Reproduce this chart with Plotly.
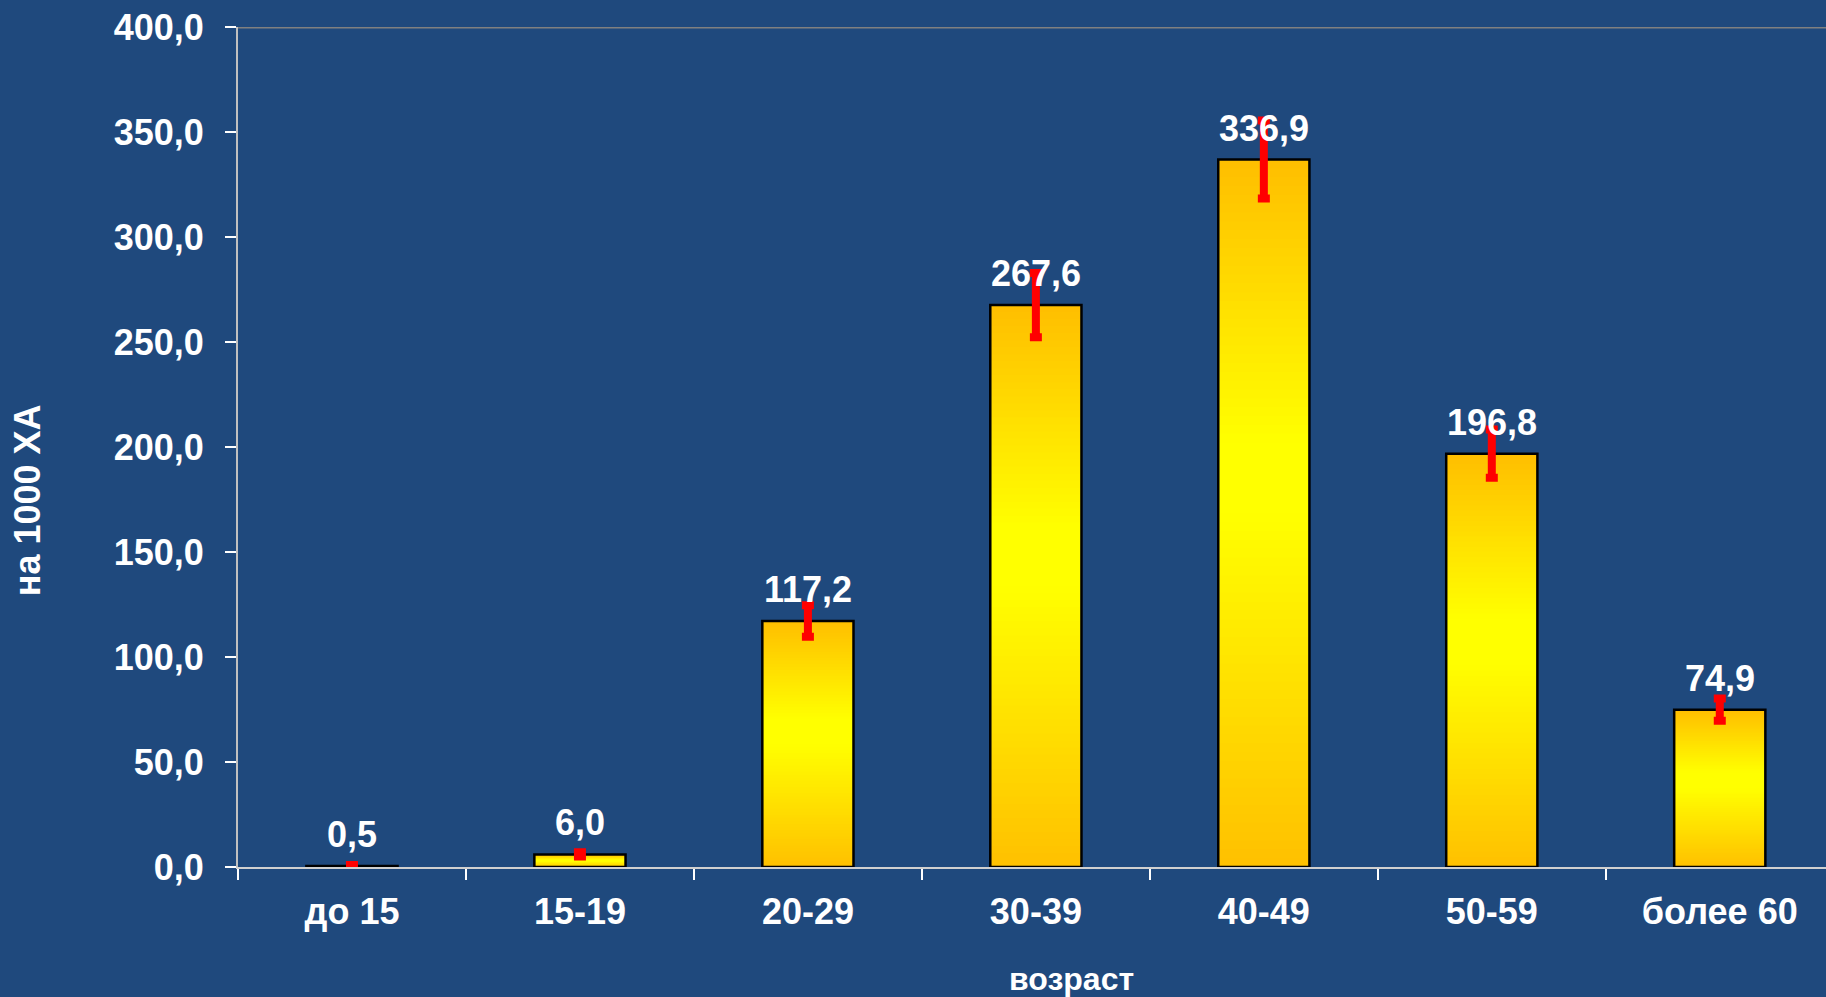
import plotly.graph_objects as go

# Age groups and rates per 1000
categories = ["до 15", "15-19", "20-29", "30-39", "40-49", "50-59", "более 60"]
values = [0.5, 6.0, 117.2, 267.6, 336.9, 196.8, 74.9]
errors = [0.5, 1.0, 7.5, 15.3, 18.6, 11.5, 5.3]

BG = "#1F497D"
FONT = "Liberation Sans, Arial, sans-serif"
N_STEPS = 80
BAR_W = 0.40

# vertical gradient stops (fraction from the bottom of each bar)
STOPS = [(0.0, (255, 192, 0)), (0.5, (255, 255, 0)), (0.6, (255, 255, 0)), (1.0, (255, 190, 0))]


def grad_color(t):
    for (t0, c0), (t1, c1) in zip(STOPS[:-1], STOPS[1:]):
        if t0 <= t <= t1:
            f = 0 if t1 == t0 else (t - t0) / (t1 - t0)
            r, g, b = (round(a + (b_ - a) * f) for a, b_ in zip(c0, c1))
            return f"rgb({r},{g},{b})"
    return "rgb(255,192,0)"


fig = go.Figure()

# gradient fill: each bar split into overlapping horizontal slices, drawn bottom-up
for j in range(N_STEPS):
    col = grad_color((j + 0.5) / N_STEPS)
    bases = [v * j / N_STEPS for v in values]
    tops = [min(v, v * (j + 2.5) / N_STEPS) for v in values]
    fig.add_trace(go.Bar(
        x=categories,
        y=[t - b for t, b in zip(tops, bases)],
        base=bases,
        width=BAR_W,
        marker=dict(color=col, line=dict(width=0)),
        showlegend=False,
        hoverinfo="skip",
    ))

# outline and error bars
fig.add_trace(go.Bar(
    x=categories,
    y=values,
    width=BAR_W,
    marker=dict(color="rgba(0,0,0,0)", line=dict(color="black", width=2.5)),
    error_y=dict(type="data", array=errors, visible=True, color="#FF0000", thickness=8, width=6),
    showlegend=False,
))

# value labels above the bars
for c, v in zip(categories, values):
    fig.add_annotation(
        x=c, y=v, xref="x", yref="y",
        text=f"{v:.1f}".replace(".", ","),
        showarrow=False, yanchor="bottom", yshift=9,
        font=dict(family=FONT, size=36, color="white", weight="bold"),
    )

fig.add_annotation(
    x=-0.1326, y=0.437, xref="paper", yref="paper",
    text="на 1000 ХА", textangle=-90, showarrow=False,
    xanchor="center", yanchor="middle",
    font=dict(family=FONT, size=36, color="white", weight="bold"),
)
fig.add_annotation(
    x=0.5246, y=-0.1329, xref="paper", yref="paper",
    text="возраст", showarrow=False,
    xanchor="center", yanchor="middle",
    font=dict(family=FONT, size=32, color="white", weight="bold"),
)

# top border of the plot area
fig.add_shape(type="line", xref="paper", yref="y", x0=0, x1=1, y0=400, y1=400,
              line=dict(color="#808080", width=3))

fig.update_layout(
    width=1826, height=997,
    margin=dict(l=238, r=0, t=27, b=130),
    paper_bgcolor=BG, plot_bgcolor=BG,
    barmode="overlay",
    separators=", ",
    font=dict(family=FONT, color="white"),
)
fig.update_xaxes(
    type="category", range=[-0.5, 6.466],
    showline=True, linecolor="#D0D0D0", linewidth=2,
    ticks="outside", tickson="boundaries", ticklen=11, tickcolor="white", tickwidth=2,
    showgrid=False, zeroline=False,
    tickfont=dict(family=FONT, size=36, color="white", weight="bold"),
    ticklabelstandoff=12,
)
fig.update_yaxes(
    range=[0, 400], dtick=50, tickformat=".1f",
    showline=True, linecolor="#C0C0C0", linewidth=2,
    ticks="outside", ticklen=11, tickcolor="white", tickwidth=2,
    showgrid=False, zeroline=False,
    tickfont=dict(family=FONT, size=36, color="white", weight="bold"),
    ticklabelstandoff=14,
)

fig.write_html("out.html")
